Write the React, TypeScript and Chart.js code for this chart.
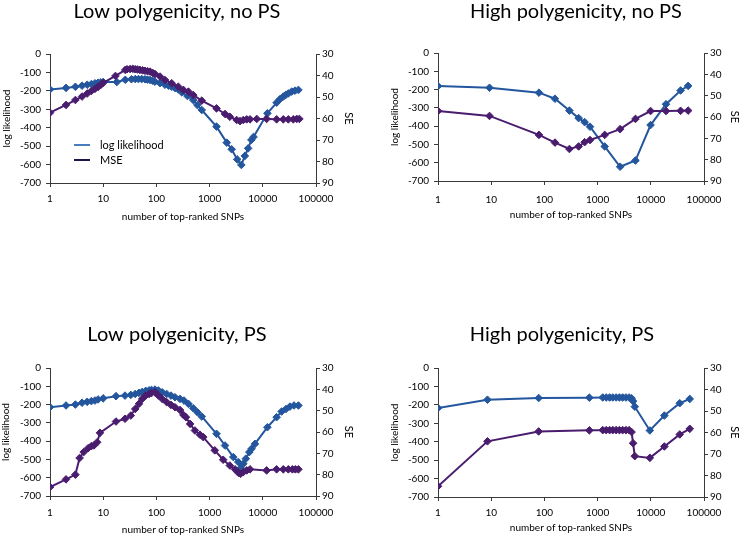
import React, { useEffect, useRef } from "react";
import { Chart, registerables } from "chart.js";

Chart.register(...registerables);

// ---------- labels ----------
const panelTitles = [
  "Low polygenicity, no PS",
  "High polygenicity, no PS",
  "Low polygenicity, PS",
  "High polygenicity, PS",
];
const seriesNames = ["log likelihood", "MSE"];
const xAxisTitle = "number of top-ranked SNPs";
const leftAxisTitle = "log likelihood";
const rightAxisTitle = "SE";

// ---------- tick values ----------
const xTickValues = [1, 10, 100, 1000, 10000, 100000];
const leftTickValues = [0, -100, -200, -300, -400, -500, -600, -700];
const rightTickValues = [30, 40, 50, 60, 70, 80, 90];

// ---------- Panel 1: Low polygenicity, no PS ----------
const p1LogLikX = [1, 2, 3, 4, 5, 6, 7, 8, 9, 10, 18, 26, 34, 40, 46, 53, 61, 68, 76, 85, 94, 117, 145, 170, 194, 225, 258, 300, 383, 493, 588, 712, 1350, 2100, 2600, 3300, 3950, 4600, 5300, 6100, 6700, 12200, 18200, 21000, 24300, 27000, 30200, 35000, 40300, 46700];
const p1LogLik = [-192, -184, -178, -172, -167, -163, -159, -156, -154, -152, -152, -140, -137, -136, -136, -136, -137, -139, -141, -145, -150, -158, -167, -172, -178, -185, -192, -208, -228, -250, -277, -304, -394, -481, -517, -572, -602, -553, -512, -466, -450, -322, -264, -245, -231, -222, -214, -204, -199, -195];
const p1MseX = [1, 2, 3, 4, 5, 6, 7, 8, 9, 10, 17, 26, 28, 32, 36, 40, 44, 49, 55, 61, 68, 76, 85, 94, 117, 145, 194, 258, 322, 400, 493, 712, 1350, 1950, 2400, 3230, 3730, 4300, 4980, 5750, 7700, 11800, 18200, 24300, 30200, 37500, 43400, 48700];
const p1Mse = [57.3, 53.7, 51.4, 49.8, 48.4, 47.2, 46.2, 45.3, 44.4, 43.4, 40.2, 37.4, 37.1, 37.0, 36.9, 37.1, 37.2, 37.4, 37.6, 37.8, 38.0, 38.2, 38.8, 39.3, 40.5, 42.1, 43.6, 45.2, 46.7, 47.5, 49.1, 51.7, 55.3, 57.9, 59.2, 60.7, 61.2, 60.7, 60.4, 60.4, 60.2, 60.2, 60.4, 60.4, 60.4, 60.4, 60.2, 60.2];

// ---------- Panel 2: High polygenicity, no PS ----------
const p2X = [1, 9.3, 79, 158, 295, 440, 570, 720, 1360, 2650, 5150, 9900, 19300, 36300, 50300];
const p2LogLik = [-181, -190, -217, -250, -315, -356, -378, -403, -511, -622, -588, -394, -280, -205, -180];
const p2Mse = [57.2, 59.5, 68.4, 72.0, 75.0, 73.8, 71.8, 70.8, 68.4, 65.7, 60.9, 57.2, 57.2, 57.1, 57.0];

// ---------- Panel 3: Low polygenicity, PS ----------
const p3LogLikX = [1, 2, 3, 4, 5, 6, 7, 8, 10, 17.4, 25.7, 33, 40, 47, 54, 63, 73, 81, 94, 109, 129, 156, 188, 224, 278, 330, 400, 493, 590, 712, 1350, 1950, 2790, 3460, 3830, 4300, 4800, 5580, 6150, 7120, 12200, 18200, 22600, 27300, 32400, 38600, 46700];
const p3LogLik = [-214, -205, -200, -190, -185, -181, -178, -172, -166, -154, -151, -147, -142, -136, -131, -125, -122, -120, -118, -123, -133, -142, -151, -160, -169, -178, -196, -220, -242, -265, -360, -424, -487, -514, -547, -524, -496, -460, -442, -415, -324, -269, -238, -224, -211, -205, -205];
const p3MseX = [1, 2, 3, 3.6, 4.3, 5.2, 6, 6.7, 7.7, 8.7, 17.4, 25.7, 33, 40, 47, 54, 63, 73, 81, 94, 109, 129, 156, 188, 224, 278, 322, 360, 430, 530, 660, 760, 1250, 1800, 2400, 3000, 3460, 3830, 4300, 4980, 5750, 11800, 18200, 24300, 30200, 36000, 41000, 46700];
const p3Mse = [85.8, 82.2, 80.0, 72.2, 69.4, 67.6, 66.6, 66.3, 64.8, 60.4, 55.1, 53.8, 52.3, 49.2, 46.8, 44.5, 42.9, 42.2, 41.7, 41.4, 42.9, 44.5, 46.0, 47.3, 48.4, 49.7, 52.0, 53.1, 56.2, 59.3, 61.3, 62.4, 68.6, 73.0, 75.7, 77.5, 79.1, 79.6, 78.8, 78.0, 77.5, 78.0, 77.5, 77.5, 77.5, 77.5, 77.5, 77.5];

// ---------- Panel 4: High polygenicity, PS ----------
const p4X = [1, 8.5, 78, 700, 1250, 1450, 1680, 1930, 2230, 2570, 2960, 3400, 3900, 4350, 4650, 5000, 9600, 18000, 35000, 54000];
const p4LogLik = [-217, -172, -163, -161, -160, -160, -160, -160, -160, -160, -160, -160, -160, -164, -180, -210, -339, -258, -191, -168];
const p4Mse = [85.0, 64.1, 59.5, 59.0, 58.9, 58.9, 58.9, 58.9, 58.9, 58.9, 58.9, 58.9, 58.9, 59.8, 65.0, 71.0, 71.8, 66.5, 60.9, 58.3];

// ---------- styling ----------
const BLUE = "#24569E";
const PURPLE = "#4A1C6E";
const LEGEND_BLUE = "#4A7DBE";
const LEGEND_PURPLE = "#22104C";
const AXIS = "#3a3a3a";
const FONT = "Lato, 'Open Sans', sans-serif";

type Spec = {
  left: number; top: number; w: number; h: number;
  plotLeft: number; plotRight: number; plotTop: number; plotBottom: number;
  titleX: number; titleY: number;
  leftTitlePad: number; rightTitlePad: number;
  xTickPad: number; xTitlePad: number;
  legend: boolean;
};

const specs: Spec[] = [
  { left: 0, top: 0, w: 371, h: 230, plotLeft: 50, plotRight: 316, plotTop: 54, plotBottom: 183, titleX: 177, titleY: 18, leftTitlePad: 1, rightTitlePad: 16, xTickPad: 6, xTitlePad: 7, legend: true },
  { left: 371, top: 0, w: 372, h: 230, plotLeft: 67, plotRight: 333, plotTop: 53, plotBottom: 181, titleX: 205, titleY: 18, leftTitlePad: 18, rightTitlePad: 2, xTickPad: 9, xTitlePad: 9, legend: false },
  { left: 0, top: 300, w: 371, h: 237, plotLeft: 50, plotRight: 316, plotTop: 68, plotBottom: 196, titleX: 177, titleY: 41, leftTitlePad: 0, rightTitlePad: 16, xTickPad: 7, xTitlePad: 1, legend: false },
  { left: 371, top: 300, w: 372, h: 237, plotLeft: 67, plotRight: 333, plotTop: 68, plotBottom: 197, titleX: 191, titleY: 41, leftTitlePad: 18, rightTitlePad: 2, xTickPad: 6, xTitlePad: 3, legend: false },
];

const panelData = [
  { llX: p1LogLikX, ll: p1LogLik, mseX: p1MseX, mse: p1Mse },
  { llX: p2X, ll: p2LogLik, mseX: p2X, mse: p2Mse },
  { llX: p3LogLikX, ll: p3LogLik, mseX: p3MseX, mse: p3Mse },
  { llX: p4X, ll: p4LogLik, mseX: p4X, mse: p4Mse },
];

const toXY = (xs: number[], ys: number[]) => xs.map((x, i) => ({ x, y: ys[i] }));

const panelTitlePlugin = {
  id: "panelTitle",
  afterDraw(chart: any, _args: any, opts: any) {
    const ctx = chart.ctx;
    ctx.save();
    ctx.font = `20px ${FONT}`;
    ctx.fillStyle = "#000";
    ctx.textAlign = "center";
    ctx.textBaseline = "alphabetic";
    ctx.fillText(opts.text, opts.x, opts.y);
    ctx.restore();
  },
};

const innerLegendPlugin = {
  id: "innerLegend",
  afterDraw(chart: any, _args: any, opts: any) {
    if (!opts || !opts.show) return;
    const ctx = chart.ctx;
    const colors = [LEGEND_BLUE, LEGEND_PURPLE];
    const ys = [145, 160];
    ctx.save();
    ctx.font = `11px ${FONT}`;
    ctx.textAlign = "left";
    ctx.textBaseline = "middle";
    chart.data.datasets.forEach((ds: any, i: number) => {
      ctx.strokeStyle = colors[i];
      ctx.lineWidth = 2;
      ctx.beginPath();
      ctx.moveTo(74, ys[i]);
      ctx.lineTo(90, ys[i]);
      ctx.stroke();
      ctx.fillStyle = "#000";
      ctx.fillText(ds.label, 100, ys[i]);
    });
    ctx.restore();
  },
};

function Panel({ idx }: { idx: number }) {
  const ref = useRef<HTMLCanvasElement>(null);
  const spec = specs[idx];
  useEffect(() => {
    const d = panelData[idx];
    const tickFont = { family: FONT, size: 10 };
    const gridCommon = { display: true, drawOnChartArea: false, drawTicks: true, tickLength: 4, color: AXIS };
    const border = { display: true, color: AXIS, width: 1 };
    const pointCommon = { pointStyle: "rectRot", pointRadius: 3.8, pointBorderWidth: 1, borderWidth: 2 };
    const chart = new Chart(ref.current as HTMLCanvasElement, {
      type: "line",
      data: {
        datasets: [
          { label: seriesNames[0], data: toXY(d.llX, d.ll), yAxisID: "y", borderColor: BLUE, backgroundColor: BLUE, pointBackgroundColor: BLUE, pointBorderColor: BLUE, order: 1, ...pointCommon } as any,
          { label: seriesNames[1], data: toXY(d.mseX, d.mse), yAxisID: "y1", borderColor: PURPLE, backgroundColor: PURPLE, pointBackgroundColor: PURPLE, pointBorderColor: PURPLE, order: 0, ...pointCommon } as any,
        ],
      },
      options: {
        responsive: false,
        animation: false,
        events: [],
        layout: { padding: { top: spec.plotTop, left: 0, right: 0, bottom: 0 } },
        plugins: {
          legend: { display: false },
          tooltip: { enabled: false },
          title: { display: false },
          panelTitle: { text: panelTitles[idx], x: spec.titleX, y: spec.titleY },
          innerLegend: { show: spec.legend },
        } as any,
        scales: {
          x: {
            type: "logarithmic",
            min: 1,
            max: 100000,
            afterBuildTicks: (s: any) => { s.ticks = xTickValues.map((v) => ({ value: v })); },
            afterFit: (s: any) => { s.height = spec.h - spec.plotBottom; },
            ticks: { font: tickFont, color: "#000", padding: spec.xTickPad, maxRotation: 0, autoSkip: false, callback: (v: any) => String(v) },
            grid: gridCommon,
            border,
            title: { display: true, text: xAxisTitle, font: tickFont, color: "#000", padding: { top: 0, bottom: spec.xTitlePad } },
          },
          y: {
            type: "linear",
            position: "left",
            min: -700,
            max: 0,
            afterBuildTicks: (s: any) => { s.ticks = leftTickValues.map((v) => ({ value: v })); },
            afterFit: (s: any) => { s.width = spec.plotLeft; },
            ticks: { font: tickFont, color: "#000", padding: 5, callback: (v: any) => String(v) },
            grid: gridCommon,
            border,
            title: { display: true, text: leftAxisTitle, font: tickFont, color: "#000", padding: { top: spec.leftTitlePad, bottom: 0 } },
          },
          y1: {
            type: "linear",
            position: "right",
            min: 30,
            max: 90,
            reverse: true,
            afterBuildTicks: (s: any) => { s.ticks = rightTickValues.map((v) => ({ value: v })); },
            afterFit: (s: any) => { s.width = spec.w - spec.plotRight; },
            ticks: { font: tickFont, color: "#000", padding: 2, callback: (v: any) => String(v) },
            grid: gridCommon,
            border,
            title: { display: true, text: rightAxisTitle, font: { family: FONT, size: 11 }, color: "#000", padding: { top: spec.rightTitlePad, bottom: 0 } },
          },
        },
      } as any,
      plugins: [panelTitlePlugin, innerLegendPlugin],
    });
    return () => chart.destroy();
  }, [idx]);
  return (
    <canvas
      ref={ref}
      width={spec.w}
      height={spec.h}
      style={{ position: "absolute", left: spec.left, top: spec.top, width: spec.w, height: spec.h }}
    />
  );
}

export default function App() {
  return (
    <div style={{ position: "absolute", left: 0, top: 0, width: 743, height: 537, background: "#fff" }}>
      {specs.map((_, i) => (
        <Panel key={i} idx={i} />
      ))}
    </div>
  );
}
